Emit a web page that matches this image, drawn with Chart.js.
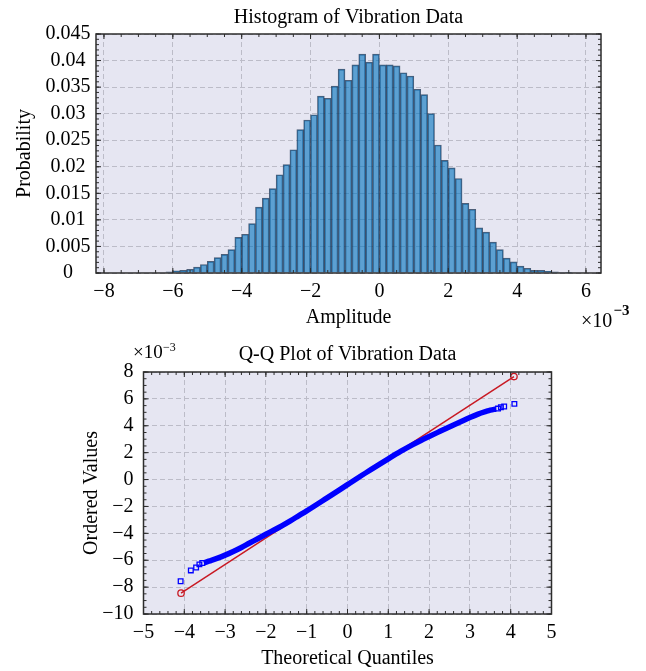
<!DOCTYPE html>
<html><head><meta charset="utf-8">
<script src="https://cdn.jsdelivr.net/npm/chart.js@4.4.1/dist/chart.umd.min.js"></script>
<style>
html,body{margin:0;padding:0;background:#fff;}
body{width:646px;height:671px;position:relative;overflow:hidden;}
.box{position:absolute;left:0;width:646px;}
</style></head><body>
<div class="box" style="top:0;height:340px"><canvas id="c1"></canvas></div>
<div class="box" style="top:335px;height:336px"><canvas id="c2"></canvas></div>
<script>
// ---------- Histogram data (amplitude in 1e-3 units) ----------
const binCenters = [-6.1,-5.9,-5.7,-5.5,-5.3,-5.1,-4.9,-4.7,-4.5,-4.3,-4.1,-3.9,-3.7,-3.5,-3.3,-3.1,-2.9,-2.7,-2.5,-2.3,-2.1,-1.9,-1.7,-1.5,-1.3,-1.1,-0.9,-0.7,-0.5,-0.3,-0.1,0.1,0.3,0.5,0.7,0.9,1.1,1.3,1.5,1.7,1.9,2.1,2.3,2.5,2.7,2.9,3.1,3.3,3.5,3.7,3.9,4.1,4.3,4.5,4.7,4.9,5.1,5.3,5.5];
const binProbability = [0.0002,0.0004,0.0005,0.0007,0.0011,0.0016,0.0022,0.0029,0.0035,0.0044,0.0067,0.0073,0.0093,0.0124,0.0141,0.0159,0.0185,0.0204,0.0232,0.0270,0.0288,0.0298,0.0333,0.0329,0.0352,0.0384,0.0363,0.0392,0.0412,0.0397,0.0412,0.0392,0.0392,0.0390,0.0377,0.0371,0.0346,0.0336,0.0300,0.0241,0.0212,0.0198,0.0178,0.0131,0.0120,0.0085,0.0077,0.0058,0.0044,0.0028,0.0021,0.0013,0.0009,0.0005,0.0005,0.0003,0.0002,0.0001,0.00005];
const histXTicks = [-8,-6,-4,-2,0,2,4,6];
const histYTicks = [0,0.005,0.01,0.015,0.02,0.025,0.03,0.035,0.04,0.045];
const histYTickLabels = ['0','0.005','0.01','0.015','0.02','0.025','0.03','0.035','0.04','0.045'];

// ---------- Q-Q data (ordered values in 1e-3 units) ----------
const qqTheoretical = [-3.52,-3.4,-3.2,-3.0,-2.8,-2.6,-2.4,-2.2,-2.0,-1.8,-1.6,-1.4,-1.2,-1.0,-0.5,0,0.5,1.0,1.3,1.6,1.8,2.0,2.2,2.4,2.6,2.8,3.0,3.2,3.4,3.5,3.64];
const qqOrdered = [-6.2,-6.07,-5.86,-5.62,-5.35,-5.05,-4.72,-4.40,-4.07,-3.75,-3.42,-3.07,-2.70,-2.33,-1.36,-0.38,0.6,1.54,2.09,2.60,2.91,3.20,3.49,3.78,4.06,4.34,4.62,4.87,5.07,5.16,5.25];
const tailTheoretical = [-4.09,-3.84,-3.71,-3.63,-3.56,3.69,3.76,3.84,4.09];
const tailOrdered = [-7.56,-6.76,-6.54,-6.31,-6.21,5.28,5.38,5.43,5.63];
const fitTheoretical = [-4.08,4.08];
const fitOrdered = [-8.45,7.66];
const qqXTicks = [-5,-4,-3,-2,-1,0,1,2,3,4,5];
const qqYTicks = [-10,-8,-6,-4,-2,0,2,4,6,8];

const FONT = 'Liberation Serif, Times New Roman, serif';
Chart.defaults.font.family = FONT;
Chart.defaults.color = '#000';
const fmt = v => v < 0 ? '\u2212' + Math.abs(v) : String(v);
const GRID = 'rgb(188,188,200)';
const BG = 'rgb(230,230,242)';

const frame = {
  id: 'frame',
  beforeDraw(chart, args, o) {
    const {ctx, chartArea: a} = chart;
    ctx.save();
    ctx.fillStyle = BG;
    ctx.fillRect(a.left, a.top, a.right - a.left, a.bottom - a.top);
    ctx.restore();
  },
  afterDraw(chart, args, o) {
    const {ctx, chartArea: a, scales} = chart;
    const x = scales.x, y = scales.y;
    ctx.save();
    ctx.strokeStyle = 'rgb(45,45,45)';
    ctx.lineWidth = 1;
    const ticksAlong = (sc, step, len) => {
      const start = Math.ceil(sc.min / step - 1e-9);
      const end = Math.floor(sc.max / step + 1e-9);
      for (let k = start; k <= end; k++) {
        const v = k * step;
        const p = sc.getPixelForValue(v);
        ctx.beginPath();
        if (sc.isHorizontal()) {
          ctx.moveTo(p, a.bottom); ctx.lineTo(p, a.bottom - len);
          ctx.moveTo(p, a.top); ctx.lineTo(p, a.top + len);
        } else {
          ctx.moveTo(a.left, p); ctx.lineTo(a.left + len, p);
          ctx.moveTo(a.right, p); ctx.lineTo(a.right - len, p);
        }
        ctx.stroke();
      }
    };
    ticksAlong(x, o.xMinor, 3);
    ticksAlong(y, o.yMinor, 3);
    ticksAlong(x, o.xMajor, 5);
    ticksAlong(y, o.yMajor, 5);
    ctx.lineWidth = 1.5;
    ctx.strokeRect(a.left, a.top, a.right - a.left, a.bottom - a.top);
    ctx.fillStyle = '#000';
    ctx.textAlign = 'left';
    ctx.textBaseline = 'middle';
    (o.texts || []).forEach(t => {
      ctx.font = t.font;
      ctx.fillText(t.text, t.x, t.y);
    });
    ctx.restore();
  }
};

const tickFont = {family: FONT, size: 20};
const titleFont = {family: FONT, size: 20, weight: 'normal'};

// ---------- Histogram ----------
new Chart(document.getElementById('c1'), {
  type: 'bar',
  data: {
    datasets: [{
      data: binCenters.map((c, i) => ({x: c, y: binProbability[i]})),
      backgroundColor: 'rgba(0,114,189,0.6)',
      borderColor: 'rgba(25,50,80,0.75)',
      borderWidth: 1,
      barPercentage: 1,
      categoryPercentage: 1
    }]
  },
  plugins: [frame],
  options: {
    responsive: true, maintainAspectRatio: false, devicePixelRatio: 1, animation: false,
    layout: {padding: {left: 0, right: 45, top: 0, bottom: 0}},
    plugins: {
      legend: {display: false}, tooltip: {enabled: false},
      title: {display: true, text: 'Histogram of Vibration Data', font: titleFont, color: '#000', padding: {top: 6, bottom: 4}, fullSize: false},
      frame: {xMajor: 2, xMinor: 0.5, yMajor: 0.005, yMinor: 0.001,
        texts: [
          {text: '\u00d710', x: 581, y: 322, font: '20px ' + FONT},
          {text: '\u22123', x: 613.5, y: 311, font: 'bold 15px ' + FONT}
        ]}
    },
    scales: {
      x: {
        type: 'linear', min: -8.232, max: 6.436, offset: false,
        grid: {color: GRID, lineWidth: 1, drawTicks: false, offset: false},
        border: {display: false, dash: [5, 3]},
        ticks: {font: tickFont, color: '#000', padding: 7, autoSkip: false, maxRotation: 0, callback: v => fmt(v)},
        afterBuildTicks: s => { s.ticks = histXTicks.map(v => ({value: v})); },
        afterFit: s => { s.height = 67; },
        title: {display: true, text: 'Amplitude', font: titleFont, color: '#000', padding: {top: 0, bottom: 10}}
      },
      y: {
        min: 0, max: 0.045,
        grid: {color: GRID, lineWidth: 1, drawTicks: false},
        border: {display: false, dash: [5, 3]},
        ticks: {font: tickFont, color: '#000', padding: 5.5, crossAlign: 'center', autoSkip: false, callback: (v, i) => histYTickLabels[i]},
        afterBuildTicks: s => { s.ticks = histYTicks.map(v => ({value: v})); },
        afterFit: s => { s.width = 96; },
        title: {display: true, text: 'Probability', font: titleFont, color: '#000', padding: {top: 13, bottom: 0}}
      }
    }
  }
});

// ---------- Q-Q plot ----------
new Chart(document.getElementById('c2'), {
  type: 'scatter',
  data: {
    datasets: [
      {
        data: qqTheoretical.map((t, i) => ({x: t, y: qqOrdered[i]})),
        showLine: true, borderColor: 'rgb(0,0,255)', borderWidth: 5.5, pointRadius: 0,
        cubicInterpolationMode: 'monotone', order: 0
      },
      {
        data: tailTheoretical.map((t, i) => ({x: t, y: tailOrdered[i]})),
        pointStyle: 'rect', pointRadius: 3.3, pointBorderWidth: 1.3,
        pointBorderColor: 'rgb(0,0,255)', pointBackgroundColor: 'rgba(0,0,0,0)', order: 0
      },
      {
        data: fitTheoretical.map((t, i) => ({x: t, y: fitOrdered[i]})),
        showLine: true, borderColor: 'rgb(200,25,35)', borderWidth: 1.5,
        pointStyle: 'circle', pointRadius: 3.2, pointBorderWidth: 1.3,
        pointBorderColor: 'rgb(200,25,35)', pointBackgroundColor: 'rgba(0,0,0,0)', order: 2
      }
    ]
  },
  plugins: [frame],
  options: {
    responsive: true, maintainAspectRatio: false, devicePixelRatio: 1, animation: false,
    layout: {padding: {left: 0, right: 94.5, top: 0, bottom: 0}},
    plugins: {
      legend: {display: false}, tooltip: {enabled: false},
      title: {display: true, text: 'Q-Q Plot of Vibration Data', font: titleFont, color: '#000', padding: {top: 8, bottom: 5}, fullSize: false},
      frame: {xMajor: 1, xMinor: 0.2, yMajor: 2, yMinor: 0.5,
        texts: [
          {text: '\u00d710', x: 133, y: 18, font: '19px ' + FONT},
          {text: '\u22123', x: 163, y: 13, font: '12px ' + FONT}
        ]}
    },
    scales: {
      x: {
        type: 'linear', min: -5, max: 5,
        grid: {color: GRID, lineWidth: 1, drawTicks: false},
        border: {display: false, dash: [5, 3]},
        ticks: {font: tickFont, color: '#000', padding: 7, autoSkip: false, maxRotation: 0, callback: v => fmt(v)},
        afterBuildTicks: s => { s.ticks = qqXTicks.map(v => ({value: v})); },
        afterFit: s => { s.height = 57; },
        title: {display: true, text: 'Theoretical Quantiles', font: titleFont, color: '#000', padding: {top: 0, bottom: 0}}
      },
      y: {
        type: 'linear', min: -10, max: 8,
        grid: {color: GRID, lineWidth: 1, drawTicks: false},
        border: {display: false, dash: [5, 3]},
        ticks: {font: tickFont, color: '#000', padding: 10, autoSkip: false, callback: v => fmt(v)},
        afterBuildTicks: s => { s.ticks = qqYTicks.map(v => ({value: v})); },
        afterFit: s => { s.width = 143.5; },
        title: {display: true, text: 'Ordered Values', font: titleFont, color: '#000', padding: {top: 80, bottom: 0}}
      }
    }
  }
});
</script>
</body></html>
